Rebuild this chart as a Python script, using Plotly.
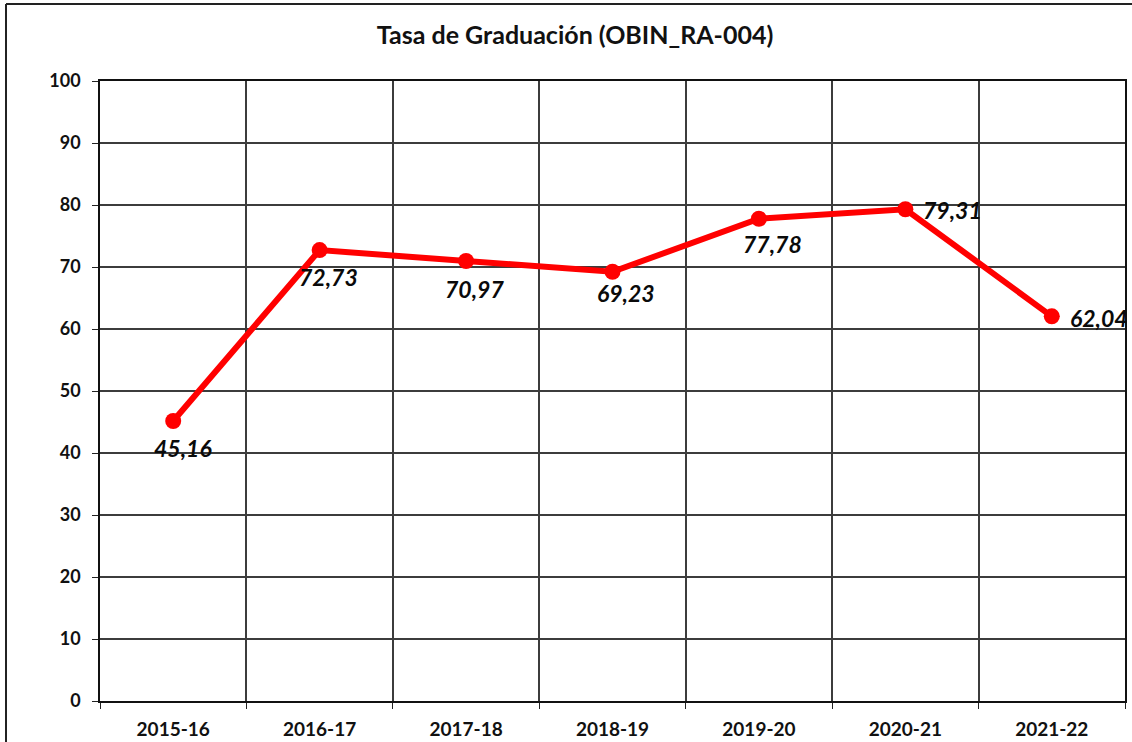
import plotly.graph_objects as go

# Academic years and graduation rate (%)
cursos = ["2015-16", "2016-17", "2017-18", "2018-19", "2019-20", "2020-21", "2021-22"]
tasa = [45.16, 72.73, 70.97, 69.23, 77.78, 79.31, 62.04]

# Label placement for each point: (anchor, x offset px, y offset px)
label_pos = [
    ("center", 10, -27),
    ("center", 9, -27),
    ("center", 8, -28),
    ("center", 13, -21),
    ("center", 14, -25),
    ("left", 16, -1),
    ("left", 16, -2),
]

FONT = "Lato"
RED = "#FF0000"
GRID = "#3c3c3c"

fig = go.Figure()
fig.add_trace(go.Scatter(
    x=cursos, y=tasa,
    mode="lines+markers",
    line=dict(color=RED, width=6),
    marker=dict(color=RED, size=16),
    hoverinfo="x+y",
    showlegend=False,
))

for c, v, (anchor, dx, dy) in zip(cursos, tasa, label_pos):
    fig.add_annotation(
        x=c, y=v, text=f"<b><i>{v:.2f}</i></b>".replace(".", ","),
        showarrow=False, xanchor=anchor, yanchor="middle",
        xshift=dx, yshift=dy,
        font=dict(family=FONT, size=23, color="#0a0a0a"),
    )

# outer chart frame (left and top edges)
fig.add_shape(type="line", xref="paper", yref="paper",
              x0=-0.0917, x1=-0.0917, y0=-0.2, y1=1.1242,
              line=dict(color="#222222", width=2))
fig.add_shape(type="line", xref="paper", yref="paper",
              x0=-0.0917, x1=1.05, y0=1.1242, y1=1.1242,
              line=dict(color="#222222", width=2))

fig.update_layout(
    width=1132, height=742,
    margin=dict(l=100, r=7, t=81, b=41),
    paper_bgcolor="white", plot_bgcolor="white",
    title=dict(text="<b>Tasa de Graduación (OBIN_RA-004)</b>",
               x=0.508, xanchor="center", y=0.952, yanchor="middle",
               font=dict(family=FONT, size=25, color="#111111")),
    font=dict(family=FONT, color="#111111"),
)

fig.update_xaxes(
    type="category", tickson="boundaries",
    range=[-0.5, len(cursos) - 0.5],
    showgrid=True, gridcolor=GRID, gridwidth=1.5,
    ticks="outside", ticklen=6, tickcolor="#222222",
    showline=True, linecolor="#111111", linewidth=1.5, mirror=True,
    tickfont=dict(family=FONT, size=19, color="#111111", weight="bold"),
    ticklabelstandoff=10,
    automargin=False,
    fixedrange=True,
)
fig.update_yaxes(
    range=[0, 100], dtick=10, tick0=0,
    showgrid=True, gridcolor=GRID, gridwidth=1.5,
    zeroline=False,
    ticks="outside", ticklen=6, tickcolor="#222222",
    showline=True, linecolor="#111111", linewidth=1.5, mirror=True,
    tickfont=dict(family=FONT, size=18, color="#111111", weight="bold"),
    ticklabelstandoff=8,
    automargin=False,
    fixedrange=True,
)

fig.write_html("out.html")
